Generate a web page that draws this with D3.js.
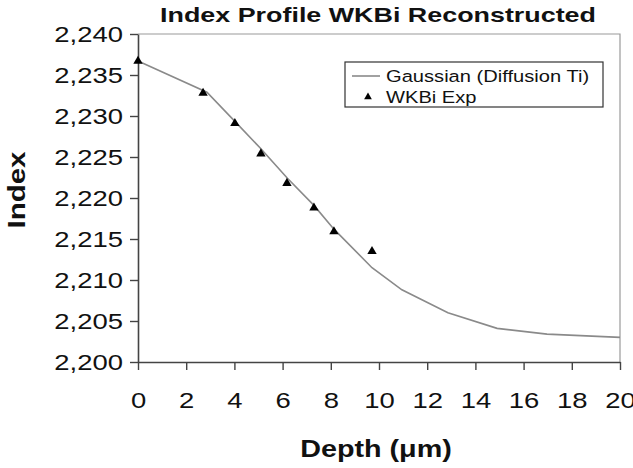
<!DOCTYPE html>
<html>
<head>
<meta charset="utf-8">
<script src="https://cdn.jsdelivr.net/npm/d3@7"></script>
<style>
  body { margin: 0; background: #fff; }
  text { font-family: "Liberation Sans", Arial, sans-serif; fill: #111; }
</style>
</head>
<body>
<div id="chart"></div>
<script>
// gaussian fit (line) and measured WKBi points (triangles)
const fitDepth = [0, 2.86, 4.0, 5.1, 6.2, 7.3, 8.13, 9.71, 10.95, 12.86, 14.9, 16.97, 20];
const fitIndex = [2.2367, 2.2329, 2.2294, 2.2260, 2.2224, 2.2191, 2.2162, 2.2115, 2.2088, 2.2060, 2.2041, 2.2034, 2.2030];
const expDepth = [0, 2.7, 4.02, 5.1, 6.18, 7.3, 8.13, 9.71];
const expIndex = [2.2367, 2.2328, 2.2291, 2.2254, 2.2218, 2.2188, 2.2159, 2.2135];
const xTicks = [0, 2, 4, 6, 8, 10, 12, 14, 16, 18, 20];
const yTicks = [2.200, 2.205, 2.210, 2.215, 2.220, 2.225, 2.230, 2.235, 2.240];
const seriesNames = ["Gaussian (Diffusion Ti)", "WKBi Exp"];

const width = 633, height = 468;
const margin = {top: 34, right: 13, bottom: 106, left: 138};
const sx = 1.22; // the scanned figure's lettering is wider than normal

const svg = d3.select('#chart').append('svg')
  .attr('width', width)
  .attr('height', height);

const x = d3.scaleLinear().domain([0, 20]).range([margin.left, width - margin.right]);
const y = d3.scaleLinear().domain([2.200, 2.240]).range([height - margin.bottom, margin.top]);

const comma = d3.formatLocale({decimal: ",", thousands: ".", grouping: [3], currency: ["", ""]});
const fmtY = comma.format(".3f");

// stretched text helper (stretch runs along the text)
function label(px, py, str, size, weight, anchor, rot, k) {
  const g = svg.append('g')
    .attr('transform', `translate(${px},${py})` + (rot ? ` rotate(${rot})` : '') + ` scale(${k || sx},1)`);
  g.append('text')
    .attr('text-anchor', anchor || 'middle')
    .style('font-size', size + 'px')
    .style('font-weight', weight || 'normal')
    .text(str);
  return g;
}

// frame: top and right gray
svg.append('path')
  .attr('d', `M${x(0)},${y(2.24)}H${x(20)}V${y(2.2)}`)
  .attr('fill', 'none')
  .attr('stroke', '#9a9a9a')
  .attr('stroke-width', 1.2);

// axes
const xAxis = svg.append('g')
  .attr('transform', `translate(0,${y(2.2)})`)
  .call(d3.axisBottom(x).tickValues(xTicks).tickSize(8).tickSizeOuter(0).tickPadding(40));
const yAxis = svg.append('g')
  .attr('transform', `translate(${x(0)},0)`)
  .call(d3.axisLeft(y).tickValues(yTicks).tickFormat(fmtY).tickSize(8).tickSizeOuter(0).tickPadding(4));

[xAxis, yAxis].forEach(a => {
  a.select('.domain').attr('stroke', '#444').attr('stroke-width', 1.6);
  a.selectAll('.tick line').attr('stroke', '#444').attr('stroke-width', 1.4);
  a.selectAll('.tick text')
    .style('font-family', '"Liberation Sans", Arial, sans-serif')
    .style('font-size', '22.5px')
    .attr('fill', '#111');
});
xAxis.selectAll('.tick text').attr('transform', `scale(${sx},1)`).attr('dy', '-0.1em');
yAxis.selectAll('.tick text').attr('transform', `scale(${sx},1)`).attr('x', -15 / sx).attr('dy', '0.35em');

// gaussian line
const fit = fitDepth.map((d, i) => [d, fitIndex[i]]);
svg.append('path')
  .datum(fit)
  .attr('fill', 'none')
  .attr('stroke', '#8a8a8a')
  .attr('stroke-width', 1.6)
  .attr('d', d3.line().x(d => x(d[0])).y(d => y(d[1])));

// measured triangles
const tri = d3.symbol().type(d3.symbolTriangle).size(38);
svg.selectAll('.exp')
  .data(expDepth.map((d, i) => [d, expIndex[i]]))
  .enter().append('path')
  .attr('class', 'exp')
  .attr('d', tri)
  .attr('fill', '#000')
  .attr('transform', d => `translate(${x(d[0])},${y(d[1])})`);

// legend
const lg = {x: 345, y: 62, w: 258, h: 45};
svg.append('rect')
  .attr('x', lg.x).attr('y', lg.y).attr('width', lg.w).attr('height', lg.h)
  .attr('fill', '#fff').attr('stroke', '#333').attr('stroke-width', 1.2);
svg.append('line')
  .attr('x1', lg.x + 7).attr('x2', lg.x + 35).attr('y1', lg.y + 14).attr('y2', lg.y + 14)
  .attr('stroke', '#8a8a8a').attr('stroke-width', 1.6);
svg.append('path')
  .attr('d', d3.symbol().type(d3.symbolTriangle).size(26))
  .attr('fill', '#000')
  .attr('transform', `translate(${lg.x + 23},${lg.y + 35})`);
label(lg.x + 41, lg.y + 20, seriesNames[0], 16.5, 'normal', 'start');
label(lg.x + 41, lg.y + 41, seriesNames[1], 16.5, 'normal', 'start');

// titles
label(378, 22, 'Index Profile WKBi Reconstructed', 21, 'bold', 'middle', 0, 1.28);
label(376, 457, 'Depth (\u03bcm)', 23, 'bold', 'middle', 0, 1.25);
label(25, 190, 'Index', 23, 'bold', 'middle', -90, 1.28);
</script>
</body>
</html>
